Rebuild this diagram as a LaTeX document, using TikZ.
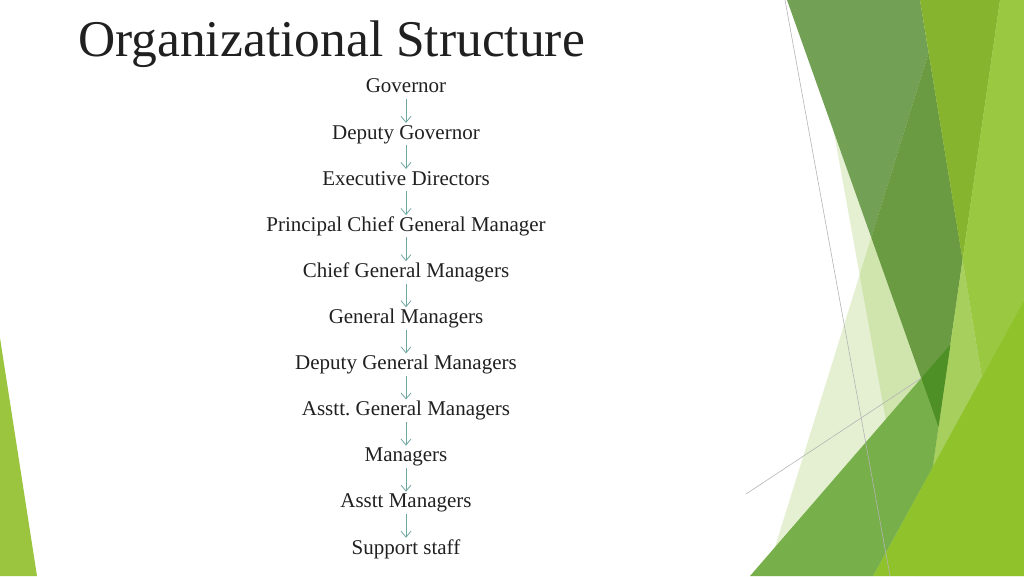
\documentclass[tikz,border=0pt]{standalone}
\usepackage{fontspec}
\setmainfont{Liberation Serif}
\usetikzlibrary{arrows.meta}
\frenchspacing

\definecolor{txtgray}{HTML}{202020}
\definecolor{arrowteal}{HTML}{6FA8A2}
\definecolor{palegreen}{HTML}{7DB41E}
\definecolor{mutedgreen}{HTML}{72A055}
\definecolor{darkgreen}{HTML}{6A9A42}
\definecolor{deepgreen}{HTML}{4E8F26}
\definecolor{yellowgreen}{HTML}{86B42F}
\definecolor{lightgreen}{HTML}{9AC840}
\definecolor{limegreen}{HTML}{A6CF5E}
\definecolor{brightgreen}{HTML}{8FC22B}
\definecolor{midgreen}{HTML}{77AF4A}
\definecolor{leftgreen}{HTML}{9BC53F}
\definecolor{hairline}{HTML}{B4B4B4}

\begin{document}
\begin{tikzpicture}[x=1pt,y=1pt,->,>={Straight Barb[length=6pt,width=10pt]},node distance=46.1pt,
    rank/.style={font=\fontsize{21}{25}\selectfont,text=txtgray,text height=14pt,text depth=4pt,inner sep=2pt}]

    \useasboundingbox (0,0) rectangle (1024,576);

    % facets on the right
    \fill[palegreen,opacity=.2] (945,576) -- (766,0) -- (1024,0) -- (1024,576) -- cycle;
    \fill[palegreen,opacity=.2] (810,576) -- (914,0) -- (1024,0) -- (1024,576) -- cycle;
    \fill[mutedgreen] (787,576) -- (920,576) -- (928.6,523.3) -- (871.3,338.4) -- cycle;
    \fill[darkgreen] (928.6,523.3) -- (962.6,316.3) -- (938.5,149.1) -- (871.3,338.4) -- cycle;
    \fill[yellowgreen] (920,576) -- (1000,576) -- (962.6,316.3) -- cycle;
    \fill[lightgreen] (1000,576) -- (1024,576) -- (1024,276) -- (981.8,198.9) -- (962.6,316.3) -- cycle;
    \fill[limegreen] (962.6,316.3) -- (981.8,198.9) -- (932.8,109.2) -- cycle;
    \fill[brightgreen] (1024,276) -- (1024,0) -- (873,0) -- cycle;
    \fill[midgreen] (750,0) -- (873,0) -- (932.8,109.2) -- (938.5,149.1) -- (921.3,197.8) -- cycle;
    \fill[deepgreen] (921.3,197.8) -- (950.4,231.4) -- (938.5,149.1) -- cycle;
    \draw[-,hairline,line width=.6pt] (785,576) -- (890,0);
    \draw[-,hairline,line width=.6pt] (746,82) -- (921.3,197.8);

    % facet on the left
    \fill[leftgreen] (0,238) -- (37,0) -- (0,0) -- cycle;

    \node[anchor=base west,inner sep=0pt,text=txtgray,font=\fontsize{51.5}{60}\selectfont] (title) at (78,519) {Organizational Structure};

    \node[rank] (gov) at (406,488) {Governor};
    \node[rank] (dgov) [below of=gov] {Deputy Governor};
    \node[rank] (exd) [below of=dgov] {Executive Directors};
    \node[rank] (pcgm) [below of=exd] {Principal Chief General Manager};
    \node[rank] (cgm) [below of=pcgm] {Chief General Managers};
    \node[rank] (gm) [below of=cgm] {General Managers};
    \node[rank] (dgm) [below of=gm] {Deputy General Managers};
    \node[rank] (agm) [below of=dgm] {Asstt. General Managers};
    \node[rank] (mgr) [below of=agm] {Managers};
    \node[rank] (amgr) [below of=mgr] {Asstt Managers};
    \node[rank] (staff) [below of=amgr] {Support staff};

    \path[draw=arrowteal,line width=.8pt]
    (gov) edge (dgov)
    (dgov) edge (exd)
    (exd) edge (pcgm)
    (pcgm) edge (cgm)
    (cgm) edge (gm)
    (gm) edge (dgm)
    (dgm) edge (agm)
    (agm) edge (mgr)
    (mgr) edge (amgr)
    (amgr) edge (staff);

\end{tikzpicture}
\end{document}
